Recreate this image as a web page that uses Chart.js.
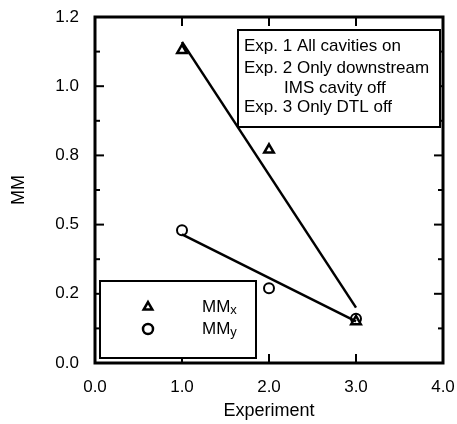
<!DOCTYPE html>
<html>
<head>
  <script src="https://cdn.jsdelivr.net/npm/chart.js@4"></script>
  <title>MM vs Experiment</title>
  <style>
    body { margin: 0; background: #fff; }
  </style>
</head>
<body>
  <canvas id="mmChart" width="457" height="424"></canvas>

  <script>
    // values
    const experiments = [1, 2, 3];
    const mmX = [1.13, 0.77, 0.15];
    const mmY = [0.48, 0.27, 0.16];
    // straight-line fits, end points at experiment 1 and 3
    const fitX = [1, 3];
    const mmXFit = [1.16, 0.20];
    const mmYFit = [0.465, 0.15];
    const xTickLabels = ['0.0', '1.0', '2.0', '3.0', '4.0'];
    const yTickLabels = ['0.0', '0.2', '0.5', '0.8', '1.0', '1.2'];
    const notes = ['Exp. 1 All cavities on', 'Exp. 2 Only downstream', 'IMS cavity off', 'Exp. 3 Only DTL off'];
    const noteIndent = [0, 0, 40, 0];

    const FONT = '"Liberation Sans", Arial, sans-serif';
    const toPts = (xs, ys) => xs.map((x, i) => ({ x: x, y: ys[i] }));

    // frame, inward ticks, note box and legend box
    const decorations = {
      id: 'decorations',
      afterDraw(chart) {
        const ctx = chart.ctx, a = chart.chartArea;
        const sx = chart.scales.x, sy = chart.scales.y;
        const seg = (x1, y1, x2, y2) => { ctx.beginPath(); ctx.moveTo(x1, y1); ctx.lineTo(x2, y2); ctx.stroke(); };
        ctx.save();
        ctx.strokeStyle = '#000';
        ctx.lineWidth = 2;
        for (let k = 1; k < 10; k++) {
          const py = sy.getPixelForValue(k * 0.125);
          const len = k % 2 === 0 ? 9 : 5;
          seg(a.left, py, a.left + len, py);
          seg(a.right, py, a.right - len, py);
        }
        for (let v = 1; v <= 3; v++) {
          const px = sx.getPixelForValue(v);
          seg(px, a.bottom, px, a.bottom - 9);
          seg(px, a.top, px, a.top + 9);
        }

        // note box, top right
        const nb = { l: a.left + 143, t: a.top + 13, r: a.right - 3, b: a.top + 110 };
        ctx.fillStyle = '#fff';
        ctx.fillRect(nb.l, nb.t, nb.r - nb.l, nb.b - nb.t);
        ctx.lineWidth = 2;
        ctx.strokeRect(nb.l, nb.t, nb.r - nb.l, nb.b - nb.t);
        ctx.fillStyle = '#000';
        ctx.font = '17px ' + FONT;
        ctx.textBaseline = 'alphabetic';
        const baselines = [21, 43, 63, 82];
        notes.forEach((s, i) => ctx.fillText(s, nb.l + 6 + noteIndent[i], nb.t + baselines[i]));

        // legend box, bottom left
        const lb = { l: a.left + 5, t: a.bottom - 82, r: a.left + 161, b: a.bottom - 5 };
        ctx.fillStyle = '#fff';
        ctx.fillRect(lb.l, lb.t, lb.r - lb.l, lb.b - lb.t);
        ctx.strokeRect(lb.l, lb.t, lb.r - lb.l, lb.b - lb.t);
        const items = [
          { style: 'triangle', main: 'MM', sub: 'x', dy: 26 },
          { style: 'circle', main: 'MM', sub: 'y', dy: 48 }
        ];
        items.forEach(it => {
          ctx.lineWidth = 2.5;
          ctx.fillStyle = '#fff';
          Chart.helpers.drawPoint(ctx, { pointStyle: it.style, radius: 5, borderWidth: 2.5 }, lb.l + 48, lb.t + it.dy);
          ctx.fillStyle = '#000';
          ctx.font = '17px ' + FONT;
          ctx.textBaseline = 'middle';
          ctx.fillText(it.main, lb.l + 102, lb.t + it.dy);
          const w = ctx.measureText(it.main).width;
          ctx.font = '13px ' + FONT;
          ctx.fillText(it.sub, lb.l + 102 + w, lb.t + it.dy + 3);
        });

        // plot frame
        ctx.lineWidth = 3;
        ctx.strokeRect(a.left, a.top, a.right - a.left, a.bottom - a.top);
        ctx.restore();
      }
    };

    const ctx = document.getElementById('mmChart').getContext('2d');
    const chart = new Chart(ctx, {
      type: 'scatter',
      data: {
        datasets: [
          {
            label: 'MMx fit',
            data: toPts(fitX, mmXFit),
            showLine: true,
            borderColor: '#000',
            borderWidth: 2.5,
            pointRadius: 0
          },
          {
            label: 'MMy fit',
            data: toPts(fitX, mmYFit),
            showLine: true,
            borderColor: '#000',
            borderWidth: 2.5,
            pointRadius: 0
          },
          {
            label: 'MMx',
            data: toPts(experiments, mmX),
            pointStyle: 'triangle',
            pointRadius: 5.5,
            pointBorderWidth: 2.5,
            borderColor: '#000',
            backgroundColor: '#fff'
          },
          {
            label: 'MMy',
            data: toPts(experiments, mmY),
            pointStyle: 'circle',
            pointRadius: 5,
            pointBorderWidth: 2,
            borderColor: '#000',
            backgroundColor: 'rgba(255,255,255,0)'
          }
        ]
      },
      options: {
        responsive: false,
        animation: false,
        layout: { padding: { top: 17, right: 14, left: 0, bottom: 0 } },
        plugins: { legend: { display: false }, tooltip: { enabled: false } },
        scales: {
          x: {
            type: 'linear',
            min: 0, max: 4,
            afterFit: s => { s.height = 61; s.paddingLeft = 0; s.paddingRight = 0; },
            grid: { display: false },
            border: { display: false },
            ticks: {
              stepSize: 1,
              color: '#000',
              padding: 6,
              font: { family: FONT, size: 17 },
              maxRotation: 0,
              callback: (v, i) => xTickLabels[i]
            },
            title: {
              display: true,
              text: 'Experiment',
              color: '#000',
              font: { family: FONT, size: 18 },
              padding: { top: 0, bottom: 2 }
            }
          },
          y: {
            type: 'linear',
            min: 0, max: 1.25,
            afterFit: s => { s.width = 95; s.paddingTop = 0; s.paddingBottom = 0; },
            grid: { display: false },
            border: { display: false },
            ticks: {
              stepSize: 0.25,
              color: '#000',
              padding: 8,
              font: { family: FONT, size: 17 },
              callback: (v, i) => yTickLabels[i]
            },
            title: {
              display: true,
              text: 'MM',
              color: '#000',
              font: { family: FONT, size: 18 },
              padding: { top: 8, bottom: 0 }
            }
          }
        }
      },
      plugins: [decorations]
    });
  </script>
</body>
</html>
